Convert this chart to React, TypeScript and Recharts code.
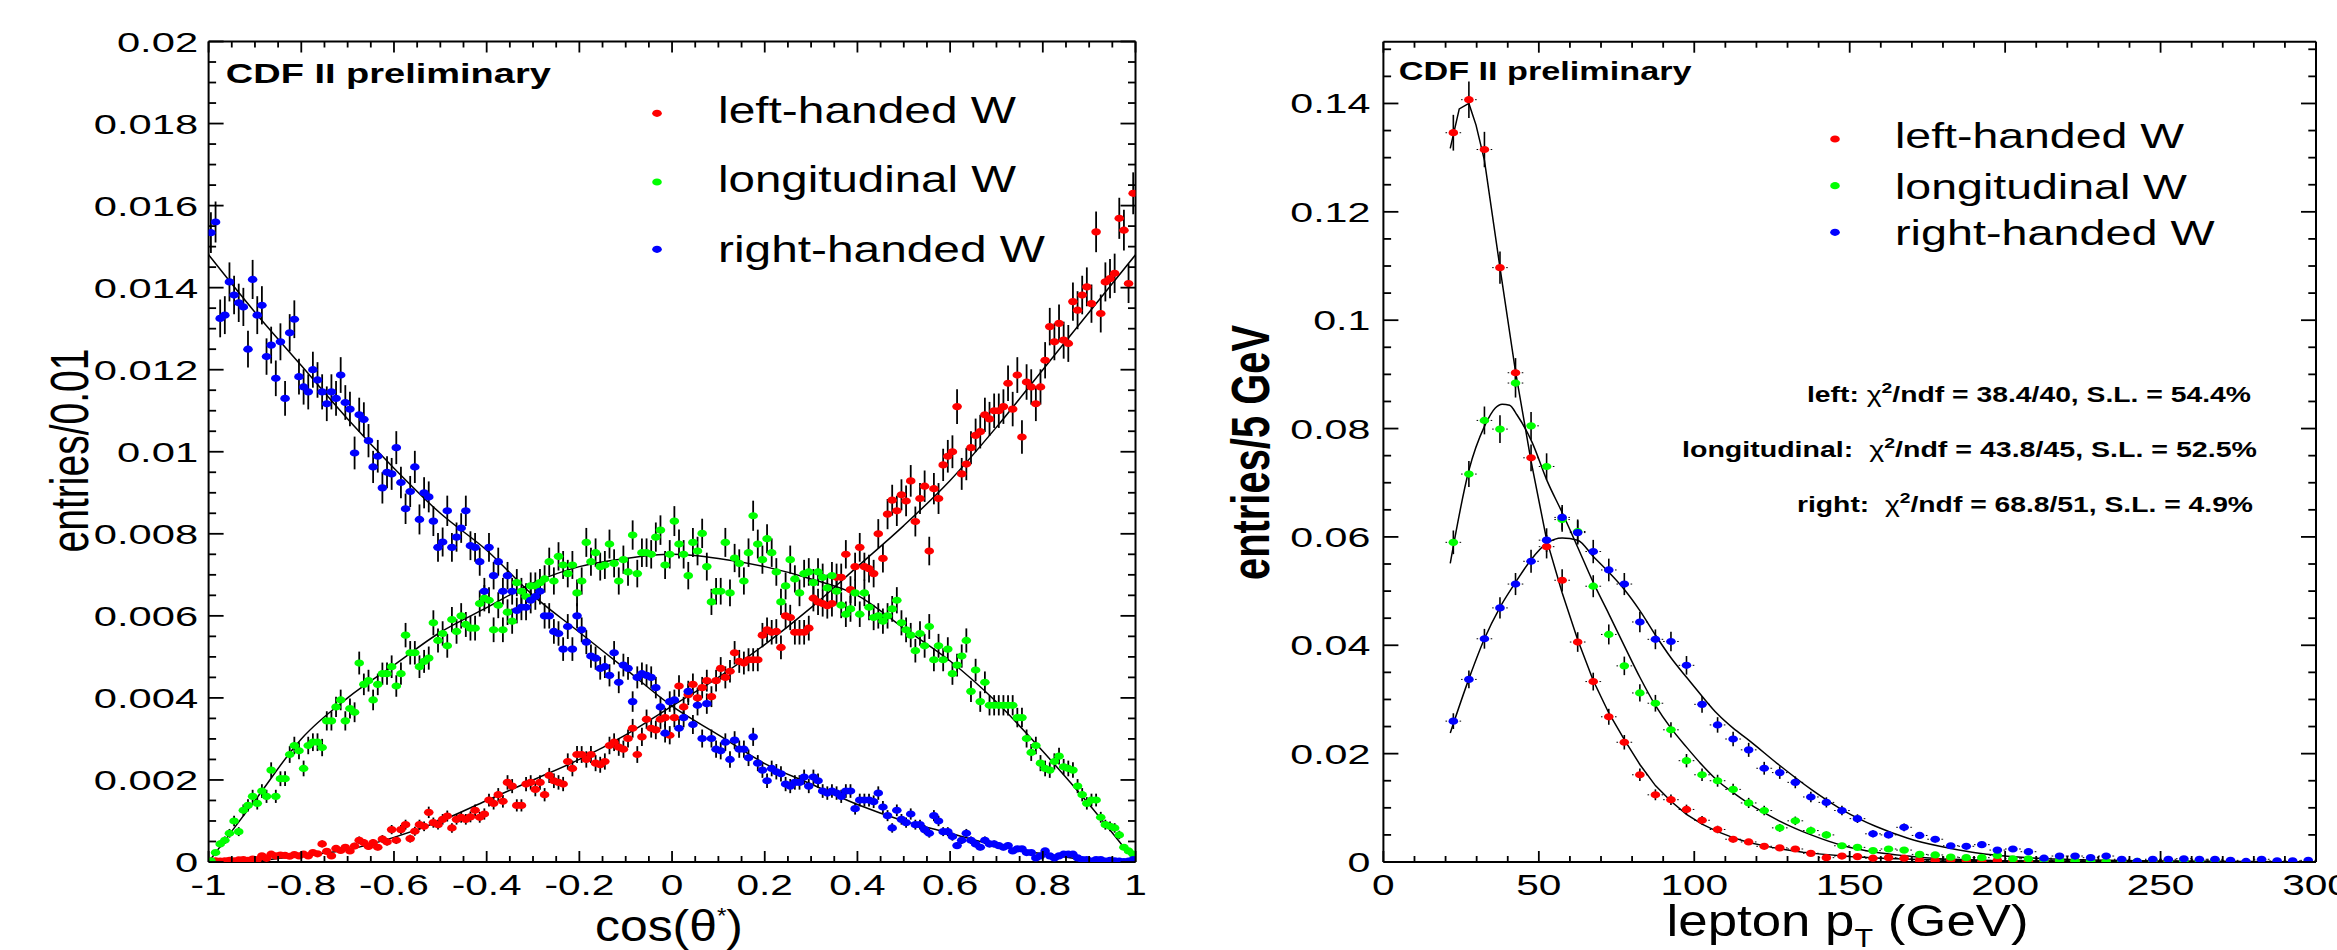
import React from 'react';
import { ComposedChart, Scatter, Line, XAxis, YAxis, ErrorBar } from 'recharts';

// ---------- left panel: cos(theta*) templates, 200 bins of width 0.01 (values in units of 1e-4)
const cosBinStart = -0.995;
const cosBinWidth = 0.01;

const cosLeftHanded = [
  0.2, 0.3, 0.2, 0.3, 0.4, 0.3, 0.5, 0.6, 0.4, 0.7,
  0.6, 1.5, 0.9, 1.9, 1.5, 1.7, 1.6, 1.4, 1.8, 1.5,
  1.9, 1.5, 2.3, 2.0, 4.4, 2.6, 1.5, 3.3, 2.8, 3.6,
  2.7, 3.9, 5.3, 4.7, 3.8, 4.7, 3.6, 5.6, 4.9, 7.9,
  5.3, 7.9, 9.1, 5.7, 7.5, 9.1, 8.7, 12.1, 9.6, 9.1,
  10.4, 11.2, 8.3, 10.4, 10.9, 10.4, 11.0, 12.6, 10.9, 11.7,
  15.1, 14.3, 16.4, 14.8, 19.4, 18.5, 13.8, 13.8, 19.0, 19.4,
  17.7, 19.4, 16.4, 21.1, 19.8, 19.4, 19.0, 24.5, 22.8, 26.2,
  26.2, 25.0, 26.2, 24.1, 23.7, 24.5, 28.4, 29.2, 28.0, 27.5,
  30.1, 32.6, 26.2, 30.5, 34.8, 32.6, 32.2, 34.8, 35.2, 30.9,
  35.2, 42.9, 37.8, 40.8, 43.3, 40.0, 42.5, 44.2, 40.3, 44.2,
  47.2, 45.0, 46.5, 51.0, 48.9, 48.5, 49.3, 49.3, 49.3, 55.3,
  56.6, 56.0, 56.2, 52.3, 60.0, 59.6, 56.0, 56.0, 56.0, 57.0,
  64.3, 63.4, 63.0, 62.5, 63.0, 69.4, 69.4, 75.0, 66.4, 72.0,
  76.7, 72.0, 71.5, 70.3, 80.0, 74.0, 84.8, 88.2, 85.6, 89.5,
  88.0, 92.9, 83.0, 88.6, 91.6, 75.8, 91.0, 88.6, 96.8, 98.9,
  100.0, 111.0, 94.6, 97.0, 101.0, 104.0, 104.9, 109.0, 108.0, 110.0,
  110.0, 111.0, 116.7, 110.4, 118.7, 103.6, 117.0, 115.8, 111.7, 115.8,
  122.3, 130.5, 126.8, 131.3, 127.2, 126.4, 136.6, 134.5, 138.2, 140.2,
  136.1, 153.6, 133.7, 141.4, 142.2, 143.5, 156.9, 154.0, 141.0, 163.0,
];

const cosLongitudinal = [
  0.3, 2.3, 4.4, 5.3, 7.0, 10.0, 7.4, 12.6, 13.8, 16.0,
  14.3, 17.3, 16.0, 22.4, 16.0, 20.3, 20.3, 26.2, 28.4, 27.1,
  22.8, 28.4, 29.2, 29.2, 27.9, 34.4, 34.4, 37.8, 39.5, 34.4,
  37.4, 36.5, 48.5, 43.3, 44.2, 39.5, 43.3, 45.9, 45.9, 47.6,
  42.9, 45.9, 55.3, 51.0, 51.0, 47.6, 48.9, 49.7, 58.3, 54.0,
  55.7, 52.7, 59.1, 56.2, 60.0, 57.9, 57.0, 57.0, 63.0, 64.3,
  63.8, 56.6, 62.6, 56.6, 60.9, 58.7, 68.1, 66.0, 64.7, 67.3,
  67.3, 68.1, 69.0, 73.2, 68.5, 74.5, 72.4, 70.3, 72.4, 65.6,
  68.5, 77.9, 73.2, 75.4, 72.0, 72.4, 77.5, 72.8, 68.5, 73.7,
  70.7, 79.7, 70.3, 75.4, 75.4, 75.0, 79.2, 80.9, 72.4, 75.0,
  83.1, 77.5, 75.0, 69.8, 77.9, 75.8, 80.1, 72.0, 63.4, 66.0,
  66.0, 77.9, 65.6, 74.1, 72.8, 68.5, 75.4, 84.4, 77.5, 73.7,
  78.8, 75.4, 70.7, 63.4, 67.3, 73.7, 69.0, 65.6, 70.3, 70.7,
  68.1, 70.7, 69.4, 66.8, 69.8, 66.0, 62.6, 60.4, 61.7, 65.6,
  60.4, 65.6, 62.1, 59.6, 60.0, 58.7, 60.0, 61.7, 63.8, 58.3,
  56.6, 55.3, 51.5, 55.7, 52.7, 57.4, 49.3, 52.7, 49.3, 51.9,
  45.9, 48.0, 50.2, 54.0, 41.6, 46.8, 39.1, 43.8, 38.2, 38.2,
  38.2, 38.2, 38.2, 38.2, 35.2, 35.2, 30.1, 26.7, 28.4, 24.1,
  22.8, 22.4, 24.5, 25.8, 23.2, 22.8, 22.4, 18.5, 16.4, 14.3,
  15.1, 15.1, 10.9, 9.1, 8.7, 8.3, 6.6, 3.6, 2.7, 1.9,
];

const cosRightHanded = [
  153.4, 156.0, 132.5, 133.3, 141.4, 138.2, 136.3, 135.3, 125.0, 142.0,
  133.3, 135.7, 123.2, 126.0, 117.9, 126.8, 113.0, 129.0, 132.3, 118.3,
  115.8, 114.6, 120.0, 117.5, 114.6, 111.7, 114.6, 113.0, 118.7, 112.0,
  110.4, 99.7, 109.0, 107.9, 102.7, 96.3, 98.9, 91.2, 95.0, 94.6,
  101.0, 92.5, 86.1, 90.3, 96.3, 83.5, 90.0, 89.0, 83.1, 76.7,
  78.0, 85.6, 76.7, 79.2, 81.4, 85.6, 77.1, 76.7, 73.2, 66.0,
  76.7, 69.8, 73.2, 66.0, 69.8, 66.0, 61.3, 62.1, 62.1, 63.8,
  64.7, 66.0, 60.0, 60.0, 56.2, 55.7, 51.9, 57.4, 51.9, 60.0,
  56.6, 53.6, 50.2, 49.7, 47.2, 47.6, 45.5, 51.0, 43.8, 48.0,
  47.2, 39.1, 45.0, 45.9, 45.5, 45.0, 42.5, 37.8, 31.4, 39.1,
  39.5, 32.6, 35.2, 41.6, 33.5, 38.2, 30.1, 38.6, 30.1, 27.5,
  27.1, 29.2, 25.0, 29.7, 27.5, 27.5, 25.4, 30.5, 24.1, 22.4,
  19.8, 22.8, 22.0, 21.5, 19.0, 18.5, 19.4, 19.4, 20.7, 18.5,
  20.7, 19.8, 17.3, 16.8, 17.3, 16.8, 16.0, 17.3, 17.3, 13.0,
  15.1, 15.1, 15.1, 14.7, 16.8, 13.4, 11.3, 8.3, 12.6, 10.4,
  9.6, 11.7, 9.1, 9.1, 7.9, 7.0, 11.3, 10.0, 7.4, 7.4,
  6.2, 4.0, 5.3, 7.0, 5.3, 4.4, 3.6, 5.3, 4.4, 4.4,
  4.0, 3.6, 4.0, 2.7, 3.2, 3.2, 2.3, 2.3, 1.0, 1.5,
  2.7, 1.5, 1.0, 1.5, 1.9, 1.9, 1.9, 1.0, 0.6, 0.6,
  0.2, 0.6, 0.6, 0.2, 0.4, 0.3, 0.2, 0.1, 0.2, 0.6,
];

// fitted curves, sampled every 0.1 (units of 1e-4)
const cosFitX = [-1, -0.9, -0.8, -0.7, -0.6, -0.5, -0.4, -0.3, -0.2, -0.1, 0, 0.1, 0.2, 0.3, 0.4, 0.5, 0.6, 0.7, 0.8, 0.9, 1];
const cosFitLeft = [0, 0.3, 1.5, 3, 6, 10, 15, 20, 25, 31, 38, 45, 53, 62, 72, 82, 93, 106, 120, 134, 148];
const cosFitLong = [0, 15, 30, 40, 48, 56, 62, 68, 72, 74, 75, 74, 72, 69, 65, 57, 49, 39, 27, 14, 0];
const cosFitRight = [148, 134, 121, 108, 96, 85, 76, 65, 56, 47, 38, 31, 24, 19, 14, 10, 7, 4, 2, 0.5, 0];

const cosXMajor = [-1, -0.8, -0.6, -0.4, -0.2, 0, 0.2, 0.4, 0.6, 0.8, 1];
const cosXLabels = ['-1', '-0.8', '-0.6', '-0.4', '-0.2', '0', '0.2', '0.4', '0.6', '0.8', '1'];
const cosYMajor = [0, 0.002, 0.004, 0.006, 0.008, 0.01, 0.012, 0.014, 0.016, 0.018, 0.02];
const cosYLabels = ['0', '0.002', '0.004', '0.006', '0.008', '0.01', '0.012', '0.014', '0.016', '0.018', '0.02'];

// ---------- right panel: lepton pT templates, 5 GeV bins
const ptBins = [
  22.5, 27.5, 32.5, 37.5, 42.5, 47.5, 52.5, 57.5, 62.5, 67.5,
  72.5, 77.5, 82.5, 87.5, 92.5, 97.5, 102.5, 107.5, 112.5, 117.5,
  122.5, 127.5, 132.5, 137.5, 142.5, 147.5, 152.5, 157.5, 162.5, 167.5,
  172.5, 177.5, 182.5, 187.5, 192.5, 197.5, 202.5, 207.5, 212.5, 217.5,
  222.5, 227.5, 232.5, 237.5, 242.5, 247.5, 252.5, 257.5, 262.5, 267.5,
  272.5, 277.5, 282.5, 287.5, 292.5, 297.5,
];
const ptLeftHanded = [
  0.1346, 0.1407, 0.1315, 0.1097, 0.0903, 0.0746, 0.0582, 0.0520, 0.0406, 0.0333,
  0.0268, 0.0221, 0.0161, 0.0124, 0.0115, 0.0097, 0.0077, 0.0060, 0.0042, 0.0037,
  0.0029, 0.0026, 0.0024, 0.0016, 0.0008, 0.0011, 0.0010, 0.0007, 0.0008, 0.0007,
  0.0003, 0.0003, 0.0004, 0.0003, 0.0001, 0.0003, 0.0002, 0.0002, 0.0001, 0.0001,
  0.0002, 0.0001, 0.0001, 0.0001, 0.0000, 0.0001, 0.0002,
];
const ptLongitudinal = [
  0.0590, 0.0716, 0.0815, 0.0799, 0.0884, 0.0805, 0.0730, 0.0632, 0.0610, 0.0509,
  0.0420, 0.0362, 0.0312, 0.0293, 0.0244, 0.0187, 0.0161, 0.0150, 0.0134, 0.0109,
  0.0095, 0.0063, 0.0076, 0.0058, 0.0050, 0.0030, 0.0027, 0.0021, 0.0024, 0.0022,
  0.0014, 0.0013, 0.0009, 0.0008, 0.0008, 0.0012, 0.0006, 0.0006, 0.0004, 0.0003,
  0.0002, 0.0002, 0.0001, 0.0002, 0.0001, 0.0003, 0.0001, 0.0002, 0.0002, 0.0003,
];
const ptRightHanded = [
  0.0260, 0.0337, 0.0412, 0.0469, 0.0513, 0.0555, 0.0594, 0.0636, 0.0608, 0.0573,
  0.0539, 0.0513, 0.0443, 0.0411, 0.0407, 0.0363, 0.0291, 0.0253, 0.0227, 0.0207,
  0.0173, 0.0165, 0.0147, 0.0120, 0.0110, 0.0095, 0.0080, 0.0052, 0.0050, 0.0064,
  0.0049, 0.0042, 0.0030, 0.0029, 0.0032, 0.0022, 0.0024, 0.0019, 0.0007, 0.0011,
  0.0011, 0.0008, 0.0011, 0.0005, 0.0001, 0.0005, 0.0005, 0.0006, 0.0005, 0.0005,
  0.0003, 0.0001, 0.0005, 0.0002, 0.0002, 0.0003,
];

const ptFitLeftX = [21.5, 24.4, 27.5, 29.8, 32.5, 37.5, 42.5, 47.5, 52.5, 57.5, 62.5, 67.5, 72.5, 77.5, 82.5, 87.5, 92.5, 97.5, 102.5, 107.5, 112.5, 117.5, 125, 130, 135, 140, 150, 160, 175, 200, 250, 300];
const ptFitLeftY = [0.1317, 0.139, 0.140, 0.136, 0.1295, 0.1097, 0.0905, 0.0740, 0.0595, 0.0497, 0.0410, 0.0335, 0.0275, 0.0226, 0.0180, 0.0141, 0.0112, 0.0088, 0.0070, 0.0056, 0.0045, 0.0036, 0.0027, 0.0022, 0.0018, 0.0015, 0.0010, 0.0007, 0.0004, 0.0002, 0.00005, 0];
const ptFitLongX = [21.5, 27.5, 32.5, 36, 38.2, 40.6, 43, 47.8, 52.7, 57.5, 62.5, 67.5, 72.5, 77.5, 82.5, 87.5, 92.5, 97.5, 102.5, 107.5, 112.5, 117.5, 127.3, 137.6, 148, 158.3, 168.7, 179, 189.4, 200, 250, 300];
const ptFitLongY = [0.0551, 0.0723, 0.0804, 0.0838, 0.0845, 0.0843, 0.0825, 0.0775, 0.0703, 0.0645, 0.0581, 0.0516, 0.0458, 0.0399, 0.0341, 0.0289, 0.0247, 0.0212, 0.0179, 0.0150, 0.0128, 0.0108, 0.0076, 0.0050, 0.0030, 0.0018, 0.0011, 0.0006, 0.0004, 0.0002, 0.0001, 0];
const ptFitRightX = [21.5, 27.5, 32.5, 37.5, 42.5, 47.5, 52.5, 57.5, 62.5, 67.5, 72.5, 77.5, 82.5, 87.5, 92.5, 97.5, 102.5, 107.5, 112.5, 117.5, 127.3, 137.6, 148, 158.3, 168.7, 179, 189.4, 199.7, 225, 250, 300];
const ptFitRightY = [0.0238, 0.0338, 0.0412, 0.0470, 0.0516, 0.0558, 0.0588, 0.0598, 0.0594, 0.0564, 0.0535, 0.0503, 0.0464, 0.0419, 0.0377, 0.0341, 0.0306, 0.0273, 0.0247, 0.0225, 0.0179, 0.0134, 0.0095, 0.0066, 0.0044, 0.0029, 0.0018, 0.0011, 0.0004, 0.0002, 0];

const ptXMajor = [0, 50, 100, 150, 200, 250, 300];
const ptXLabels = ['0', '50', '100', '150', '200', '250', '300'];
const ptYMajor = [0, 0.02, 0.04, 0.06, 0.08, 0.1, 0.12, 0.14];
const ptYLabels = ['0', '0.02', '0.04', '0.06', '0.08', '0.1', '0.12', '0.14'];

const seriesNames = ['left-handed W', 'longitudinal W', 'right-handed W'];
const fitInfo = [
  ['left: ', '/ndf = 38.4/40, S.L. = 54.4%'],
  ['longitudinal:  ', '/ndf = 43.8/45, S.L. = 52.5%'],
  ['right:  ', '/ndf = 68.8/51, S.L. = 4.9%'],
];

const RED = '#ff0000';
const GREEN = '#00ff00';
const BLUE = '#0000ff';
const FONT = "'Liberation Sans', Arial, Helvetica, sans-serif";

// statistical errors drawn as sqrt-scaled bars, like the source histograms
const cosPoints = (vals: number[]) =>
  vals.map((v, i) => ({ x: cosBinStart + i * cosBinWidth, y: v * 1e-4, e: 0.4 * Math.sqrt(v) * 1e-4 }));
const ptPoints = (vals: number[]) =>
  vals.map((v, i) => ({ x: ptBins[i], y: v, e: 0.009 * Math.sqrt(v), ex: 2.5 }));
const curve = (xs: number[], ys: number[], scale = 1) => xs.map((x, i) => ({ x, y: ys[i] * scale }));

const steps = (a: number, b: number, step: number) => {
  const n = Math.round((b - a) / step);
  return Array.from({ length: n + 1 }, (_, i) => +(a + i * step).toFixed(6));
};

type TickOpts = {
  side: 'bottom' | 'top' | 'left' | 'right';
  majors: number[];
  labels?: string[];
  majorLen: number;
  minorLen: number;
  size?: number;
  k?: number;
  off?: number;
  dy?: number;
};

const makeTick = (o: TickOpts) => (p: any) => {
  const { x, y, payload } = p;
  const idx = o.majors.findIndex((m) => Math.abs(m - payload.value) < 1e-7);
  const len = idx >= 0 ? o.majorLen : o.minorLen;
  const d = { bottom: [0, -len], top: [0, len], left: [len, 0], right: [-len, 0] }[o.side];
  let label = null;
  if (idx >= 0 && o.labels) {
    const tx = o.side === 'left' ? x - (o.off || 0) : x;
    const ty = y + (o.dy || 0);
    label = (
      <text
        transform={`translate(${tx},${ty}) scale(${o.k},1)`}
        textAnchor={o.side === 'left' ? 'end' : 'middle'}
        fontSize={o.size}
        fontFamily={FONT}
        fill="#000"
      >
        {o.labels[idx]}
      </text>
    );
  }
  return (
    <g>
      <line x1={x} y1={y} x2={x + d[0]} y2={y + d[1]} stroke="#000" strokeWidth={1.8} />
      {label}
    </g>
  );
};

const dot = (color: string) => (p: any) => <ellipse cx={p.cx} cy={p.cy} rx={4.8} ry={3.6} fill={color} />;

const axisLine = { stroke: '#000', strokeWidth: 2 };

function CosPanel() {
  const xTicks = steps(-1, 1, 0.05);
  const yTicks = steps(0, 0.02, 0.0005);
  const sets = [
    { data: cosPoints(cosLeftHanded), color: RED },
    { data: cosPoints(cosLongitudinal), color: GREEN },
    { data: cosPoints(cosRightHanded), color: BLUE },
  ];
  const fits = [
    curve(cosFitX, cosFitLeft, 1e-4),
    curve(cosFitX, cosFitLong, 1e-4),
    curve(cosFitX, cosFitRight, 1e-4),
  ];
  return (
    <ComposedChart width={1160} height={950} margin={{ top: 40.5, left: 207.6, right: 23.5, bottom: 87 }}>
      <XAxis xAxisId="b" type="number" dataKey="x" domain={[-1, 1]} allowDataOverflow ticks={xTicks} interval={0}
        height={1} tickSize={0} tickMargin={0} tickLine={false} axisLine={axisLine}
        tick={makeTick({ side: 'bottom', majors: cosXMajor, labels: cosXLabels, majorLen: 11, minorLen: 6, size: 29, k: 1.4, dy: 33 })} />
      <XAxis xAxisId="t" orientation="top" type="number" dataKey="x" domain={[-1, 1]} allowDataOverflow ticks={xTicks} interval={0}
        height={1} tickSize={0} tickMargin={0} tickLine={false} axisLine={axisLine}
        tick={makeTick({ side: 'top', majors: cosXMajor, majorLen: 11, minorLen: 6 })} />
      <YAxis yAxisId="l" type="number" dataKey="y" domain={[0, 0.02]} allowDataOverflow ticks={yTicks} interval={0}
        width={1} tickSize={0} tickMargin={0} tickLine={false} axisLine={axisLine}
        tick={makeTick({ side: 'left', majors: cosYMajor, labels: cosYLabels, majorLen: 15, minorLen: 7.5, size: 28, k: 1.49, off: 10.5, dy: 10 })} />
      <YAxis yAxisId="r" orientation="right" type="number" dataKey="y" domain={[0, 0.02]} allowDataOverflow ticks={yTicks} interval={0}
        width={1} tickSize={0} tickMargin={0} tickLine={false} axisLine={axisLine}
        tick={makeTick({ side: 'right', majors: cosYMajor, majorLen: 15, minorLen: 7.5 })} />
      {sets.map((s, i) => (
        <Scatter key={i} xAxisId="b" yAxisId="l" data={s.data} fill={s.color} shape={dot(s.color)} isAnimationActive={false}>
          <ErrorBar dataKey="e" direction="y" width={0} stroke="#000" strokeWidth={1.8} isAnimationActive={false} />
        </Scatter>
      ))}
      {fits.map((f, i) => (
        <Line key={`f${i}`} xAxisId="b" yAxisId="l" data={f} dataKey="y" type="monotone" stroke="#000" strokeWidth={1.5}
          dot={false} activeDot={false} isAnimationActive={false} />
      ))}
    </ComposedChart>
  );
}

function PtPanel() {
  const xTicks = steps(0, 300, 10);
  const yTicks = steps(0, 0.15, 0.005);
  const sets = [
    { data: ptPoints(ptLeftHanded), color: RED },
    { data: ptPoints(ptLongitudinal), color: GREEN },
    { data: ptPoints(ptRightHanded), color: BLUE },
  ];
  const fits = [
    { data: curve(ptFitLeftX, ptFitLeftY), type: 'linear' },
    { data: curve(ptFitLongX, ptFitLongY), type: 'monotone' },
    { data: curve(ptFitRightX, ptFitRightY), type: 'monotone' },
  ];
  return (
    <ComposedChart width={1177} height={950} margin={{ top: 40.7, left: 222.4, right: 20, bottom: 87 }}>
      <XAxis xAxisId="b" type="number" dataKey="x" domain={[0, 300]} allowDataOverflow ticks={xTicks} interval={0}
        height={1} tickSize={0} tickMargin={0} tickLine={false} axisLine={axisLine}
        tick={makeTick({ side: 'bottom', majors: ptXMajor, labels: ptXLabels, majorLen: 11, minorLen: 6, size: 29, k: 1.4, dy: 33 })} />
      <XAxis xAxisId="t" orientation="top" type="number" dataKey="x" domain={[0, 300]} allowDataOverflow ticks={xTicks} interval={0}
        height={1} tickSize={0} tickMargin={0} tickLine={false} axisLine={axisLine}
        tick={makeTick({ side: 'top', majors: ptXMajor, majorLen: 11, minorLen: 6 })} />
      <YAxis yAxisId="l" type="number" dataKey="y" domain={[0, 0.1514]} allowDataOverflow ticks={yTicks} interval={0}
        width={1} tickSize={0} tickMargin={0} tickLine={false} axisLine={axisLine}
        tick={makeTick({ side: 'left', majors: ptYMajor, labels: ptYLabels, majorLen: 15, minorLen: 7.7, size: 28, k: 1.47, off: 13, dy: 10 })} />
      <YAxis yAxisId="r" orientation="right" type="number" dataKey="y" domain={[0, 0.1514]} allowDataOverflow ticks={yTicks} interval={0}
        width={1} tickSize={0} tickMargin={0} tickLine={false} axisLine={axisLine}
        tick={makeTick({ side: 'right', majors: ptYMajor, majorLen: 15, minorLen: 7.7 })} />
      {sets.map((s, i) => (
        <Scatter key={i} xAxisId="b" yAxisId="l" data={s.data} fill={s.color} shape={dot(s.color)} isAnimationActive={false}>
          <ErrorBar dataKey="ex" direction="x" width={0} stroke="#000" strokeWidth={1} strokeDasharray="1.5 2" isAnimationActive={false} />
          <ErrorBar dataKey="e" direction="y" width={0} stroke="#000" strokeWidth={1.6} isAnimationActive={false} />
        </Scatter>
      ))}
      {fits.map((f, i) => (
        <Line key={`f${i}`} xAxisId="b" yAxisId="l" data={f.data} dataKey="y" type={f.type as any} stroke="#000" strokeWidth={1.5}
          dot={false} activeDot={false} isAnimationActive={false} />
      ))}
    </ComposedChart>
  );
}

const T = (p: any) => (
  <text x={p.x} y={p.y} fontSize={p.size} fontWeight={p.bold ? 'bold' : 'normal'} textLength={p.len}
    lengthAdjust="spacingAndGlyphs" fontFamily={FONT} fill="#000" style={{ whiteSpace: 'pre' }}>
    {p.children}
  </text>
);

function Overlay() {
  const colors = [RED, GREEN, BLUE];
  const leftLegendY = [123.3, 191.7, 261.7];
  const leftLegendLen = [298, 298, 327];
  const leftDotY = [113.3, 182, 249.3];
  const rightLegendY = [148.3, 199, 245];
  const rightLegendLen = [289, 292, 319.5];
  const rightDotY = [139, 185.7, 232.3];
  const fitX = [1807, 1682, 1797];
  const fitY = [402, 457, 511.5];
  const fitLen = [444, 575, 456];
  return (
    <svg width={2337} height={950} style={{ position: 'absolute', left: 0, top: 0, pointerEvents: 'none' }}>
      <T x={225.8} y={83.3} size={28} bold len={325}>CDF II preliminary</T>
      <T x={1398.8} y={80} size={26} bold len={292.7}>CDF II preliminary</T>

      {seriesNames.map((n, i) => (
        <g key={`l${i}`}>
          <ellipse cx={657} cy={leftDotY[i]} rx={4.8} ry={3.6} fill={colors[i]} />
          <T x={718} y={leftLegendY[i]} size={37} len={leftLegendLen[i]}>{n}</T>
          <ellipse cx={1835} cy={rightDotY[i]} rx={4.8} ry={3.6} fill={colors[i]} />
          <T x={1895} y={rightLegendY[i]} size={35} len={rightLegendLen[i]}>{n}</T>
        </g>
      ))}

      {fitInfo.map((f, i) => (
        <text key={`c${i}`} x={fitX[i]} y={fitY[i]} fontSize={22} fontWeight="bold" fontFamily={FONT} textLength={fitLen[i]}
          lengthAdjust="spacingAndGlyphs" style={{ whiteSpace: 'pre' }}>
          {f[0]}
          <tspan fontWeight="normal">χ</tspan>
          <tspan dy={-9} fontSize={15}>2</tspan>
          <tspan dy={9}>{f[1]}</tspan>
        </text>
      ))}

      <text transform="translate(88.3,450.5) scale(1.38,1) rotate(-90)" textAnchor="middle" fontSize={39} fontFamily={FONT}
        textLength={204} lengthAdjust="spacingAndGlyphs">entries/0.01</text>
      <text transform="translate(1269.3,452.5) scale(1.35,1) rotate(-90)" textAnchor="middle" fontSize={40} fontWeight="bold"
        fontFamily={FONT} textLength={255} lengthAdjust="spacingAndGlyphs">entries/5 GeV</text>

      <text x={595} y={940.7} fontSize={45} fontFamily={FONT} textLength={148} lengthAdjust="spacingAndGlyphs">
        cos(θ<tspan dy={-18} fontSize={22}>*</tspan><tspan dy={18}>)</tspan>
      </text>
      <text x={1666.6} y={936} fontSize={45} fontFamily={FONT} textLength={362} lengthAdjust="spacingAndGlyphs"
        style={{ whiteSpace: 'pre' }}>
        lepton p<tspan dy={11} fontSize={26}>T</tspan><tspan dy={-11}> (GeV)</tspan>
      </text>
    </svg>
  );
}

export default function App() {
  return (
    <div style={{ position: 'absolute', left: 0, top: 0, width: 2337, height: 950, background: '#fff', overflow: 'hidden' }}>
      <div style={{ position: 'absolute', left: 0, top: 0 }}>
        <CosPanel />
      </div>
      <div style={{ position: 'absolute', left: 1160, top: 0 }}>
        <PtPanel />
      </div>
      <Overlay />
    </div>
  );
}
